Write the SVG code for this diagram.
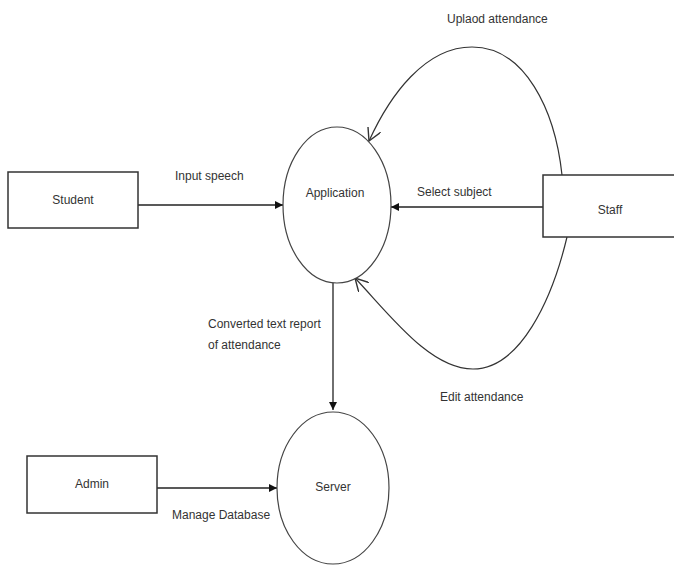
<svg xmlns="http://www.w3.org/2000/svg" width="674" height="565" viewBox="0 0 674 565">
<style>
.box{fill:#fff;stroke:#333;stroke-width:1.5}
.proc{fill:#fff;stroke:#444;stroke-width:1.2}
.lbl{font-family:"Liberation Sans",Arial,sans-serif;font-size:12px;fill:#333}
.edge{fill:none;stroke:#222;stroke-width:1.3}
.curve{fill:none;stroke:#333;stroke-width:1.2}
</style>
<defs>
<marker id="fill" viewBox="0 0 10 10" refX="10" refY="5" markerWidth="8" markerHeight="8" markerUnits="userSpaceOnUse" orient="auto">
<path d="M0,0 L10,5 L0,10 z" fill="#111"/>
</marker>
<marker id="open" viewBox="0 0 12 12" refX="11" refY="6" markerWidth="14" markerHeight="14" markerUnits="userSpaceOnUse" orient="auto">
<path d="M0,0 L11,6 L0,12" fill="none" stroke="#333" stroke-width="1.2"/>
</marker>
</defs>
<rect width="674" height="565" fill="#fff"/>
<g id="connectors">
<path class="edge" d="M138,205 L283,205" marker-end="url(#fill)"/>
<path class="edge" d="M543,207 L391,207" marker-end="url(#fill)"/>
<path class="edge" d="M333,283 L333,410" marker-end="url(#fill)"/>
<path class="edge" d="M157,488 L277,488" marker-end="url(#fill)"/>
<path class="curve" d="M562,175 C555,110 525,47 472,47 C425,47 390,95 369,141" marker-end="url(#open)"/>
<path class="curve" d="M567,237 C552,300 520,369 473,369 C430,369 390,315 355,278" marker-end="url(#open)"/>
<text class="lbl" x="175" y="180">Input speech</text>
<text class="lbl" x="417" y="196">Select subject</text>
<text class="lbl" x="447" y="23">Uplaod attendance</text>
<text class="lbl" x="440" y="401">Edit attendance</text>
<text class="lbl" x="208" y="328">Converted text report</text>
<text class="lbl" x="208" y="349">of attendance</text>
<text class="lbl" x="172" y="519">Manage Database</text>
</g>
<g id="student">
<rect class="box" x="8" y="172" width="130" height="56"/>
<text class="lbl" x="73" y="204" text-anchor="middle">Student</text>
</g>
<g id="application">
<ellipse class="proc" cx="337" cy="205" rx="54" ry="78"/>
<text class="lbl" x="335" y="197" text-anchor="middle">Application</text>
</g>
<g id="staff">
<rect class="box" x="543" y="175" width="133" height="62"/>
<text class="lbl" x="610" y="214" text-anchor="middle">Staff</text>
</g>
<g id="server">
<ellipse class="proc" cx="333" cy="488" rx="56" ry="76"/>
<text class="lbl" x="333" y="491" text-anchor="middle">Server</text>
</g>
<g id="admin">
<rect class="box" x="27" y="456" width="130" height="57"/>
<text class="lbl" x="92" y="488" text-anchor="middle">Admin</text>
</g>
</svg>
